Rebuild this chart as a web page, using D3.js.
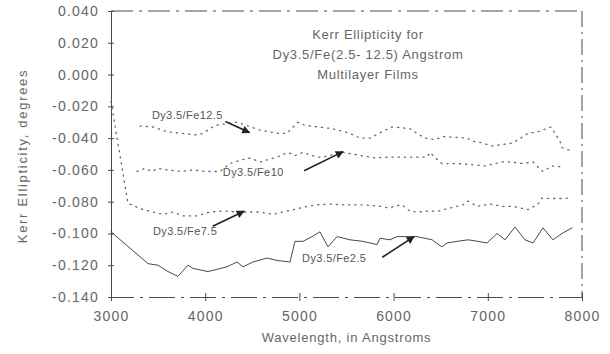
<!DOCTYPE html>
<html>
<head>
<meta charset="utf-8">
<script src="https://cdn.jsdelivr.net/npm/d3@7"></script>
<style>
  body { margin: 0; background: #fff; }
  svg { display: block; font-family: "Liberation Sans", Arial, sans-serif; }
</style>
</head>
<body>
<svg id="chart" width="610" height="354"></svg>
<script>
// wavelength (Angstrom), Kerr ellipticity (degrees)
let fe25 = [
    [3000, -0.099], [3393, -0.119], [3499, -0.120], [3605, -0.124], [3711, -0.127],
    [3817, -0.120], [3870, -0.122], [4030, -0.124], [4231, -0.121], [4338, -0.118],
    [4401, -0.121], [4507, -0.118], [4656, -0.1155], [4762, -0.117], [4900, -0.118],
    [4953, -0.105], [5038, -0.105], [5134, -0.102], [5219, -0.099], [5304, -0.1085],
    [5399, -0.102], [5537, -0.104], [5675, -0.105], [5824, -0.107], [5856, -0.103],
    [5962, -0.104], [6036, -0.102], [6248, -0.102], [6408, -0.104], [6514, -0.1085],
    [6567, -0.106], [6673, -0.105], [6790, -0.104], [6896, -0.105], [6992, -0.106],
    [7098, -0.100], [7183, -0.104], [7289, -0.096], [7395, -0.104], [7480, -0.106],
    [7586, -0.0965], [7692, -0.104], [7788, -0.100], [7894, -0.0965]
];
let fe75 = [
    [3000, -0.017], [3180, -0.081], [3340, -0.085], [3446, -0.0865], [3552, -0.088],
    [3658, -0.0865], [3764, -0.089], [3913, -0.089], [4019, -0.087], [4125, -0.086],
    [4232, -0.086], [4369, -0.0865], [4582, -0.0865], [4720, -0.088], [4826, -0.0865],
    [4975, -0.0845], [5081, -0.083], [5187, -0.082], [5325, -0.0815], [5463, -0.082],
    [5675, -0.082], [5877, -0.083], [5940, -0.084], [6036, -0.0825], [6089, -0.082],
    [6174, -0.086], [6248, -0.0865], [6355, -0.086], [6471, -0.086], [6599, -0.084],
    [6737, -0.082], [6790, -0.0796], [6885, -0.083], [7024, -0.0815], [7162, -0.083],
    [7268, -0.083], [7427, -0.085], [7533, -0.0815], [7576, -0.0777], [7660, -0.078],
    [7798, -0.078], [7873, -0.0777]
];
let fe10 = [
    [3276, -0.061], [3361, -0.059], [3435, -0.061], [3499, -0.059], [3594, -0.060],
    [3754, -0.061], [3870, -0.060], [3998, -0.061], [4157, -0.061], [4263, -0.056],
    [4369, -0.054], [4476, -0.0525], [4582, -0.055], [4762, -0.052], [4879, -0.049],
    [4953, -0.051], [5038, -0.049], [5187, -0.052], [5240, -0.052], [5463, -0.049],
    [5803, -0.0525], [5940, -0.052], [6142, -0.052], [6355, -0.052], [6386, -0.049],
    [6471, -0.054], [6514, -0.056], [6684, -0.056], [6885, -0.057], [6970, -0.0575],
    [7151, -0.055], [7236, -0.055], [7374, -0.056], [7480, -0.055], [7554, -0.0595],
    [7586, -0.061], [7682, -0.0575], [7767, -0.058]
];
let fe125 = [
    [3308, -0.0324], [3446, -0.033], [3594, -0.036], [3754, -0.037], [3892, -0.038],
    [3977, -0.037], [4104, -0.032], [4338, -0.030], [4582, -0.035], [4773, -0.037],
    [4868, -0.037], [4985, -0.030], [5060, -0.032], [5346, -0.034], [5537, -0.037],
    [5643, -0.040], [5750, -0.040], [5877, -0.036], [5983, -0.033], [6174, -0.034],
    [6248, -0.037], [6333, -0.040], [6440, -0.041], [6524, -0.039], [6779, -0.040],
    [6843, -0.042], [6939, -0.043], [7045, -0.045], [7268, -0.043], [7427, -0.037],
    [7533, -0.036], [7671, -0.033], [7724, -0.038], [7767, -0.042], [7788, -0.046],
    [7862, -0.0475]
];

let xTicks = [3000, 4000, 5000, 6000, 7000, 8000];
let yTicks = [0.040, 0.020, 0.000, -0.020, -0.040, -0.060, -0.080, -0.100, -0.120, -0.140];
let yTickLabels = ["0.040", "0.020", "0.000", "-0.020", "-0.040", "-0.060", "-0.080", "-0.100", "-0.120", "-0.140"];

let titleLines = ["Kerr Ellipticity for", "Dy3.5/Fe(2.5- 12.5) Angstrom", "Multilayer Films"];
let seriesLabels = ["Dy3.5/Fe12.5", "Dy3.5/Fe10", "Dy3.5/Fe7.5", "Dy3.5/Fe2.5"];

let width = 610, height = 354;
let margin = {top: 11, right: 28, bottom: 57, left: 111};
let ink = "#4a4a4a";
let textInk = "#666";

let graph = d3.select("#chart");

let x = d3.scaleLinear([3000, 8000], [margin.left, width - margin.right]);
let y = d3.scaleLinear([-0.140, 0.040], [height - margin.bottom, margin.top]);

graph.append("defs").append("marker")
    .attr("id", "arrow")
    .attr("viewBox", "0 0 10 10")
    .attr("refX", 9).attr("refY", 5)
    .attr("markerWidth", 7).attr("markerHeight", 5)
    .attr("orient", "auto")
  .append("path")
    .attr("d", "M0,0L10,5L0,10z")
    .attr("fill", "#222");

// frame: top/right/bottom look broken on the scan
let frame = graph.append("g")
    .attr("stroke", ink)
    .attr("stroke-width", 1)
    .attr("fill", "none");
frame.append("line")
    .attr("x1", x(3000)).attr("x2", x(8000))
    .attr("y1", y(0.040)).attr("y2", y(0.040))
    .attr("stroke-dasharray", "22,6,3,6");
frame.append("line")
    .attr("x1", x(8000)).attr("x2", x(8000))
    .attr("y1", y(0.040)).attr("y2", y(-0.140))
    .attr("stroke-dasharray", "16,5,2,5");

function xAxis(g) {
    g.attr("transform", `translate(0,${y(-0.140)})`)
     .call(d3.axisBottom(x).tickValues(xTicks).tickFormat(d3.format("d")).tickSize(4).tickPadding(10))
     .call(g => g.select(".domain").attr("stroke", ink).attr("stroke-dasharray", "26,6,3,6"))
     .call(g => g.selectAll(".tick line").attr("y1", -4).attr("y2", 4).attr("stroke", ink))
     .call(g => g.selectAll(".tick text")
         .attr("fill", textInk)
         .attr("font-size", 14)
         .attr("letter-spacing", 1.2));
}

function yAxis(g) {
    g.attr("transform", `translate(${margin.left},0)`)
     .call(d3.axisLeft(y).tickValues(yTicks).tickFormat((d, i) => yTickLabels[i]).tickSize(3).tickPadding(9))
     .call(g => g.select(".domain").attr("stroke", ink))
     .call(g => g.selectAll(".tick line").attr("x1", 3).attr("x2", -3).attr("stroke", ink))
     .call(g => g.selectAll(".tick text")
         .attr("fill", textInk)
         .attr("font-size", 14)
         .attr("letter-spacing", 1.2));
}

graph.append("g").call(xAxis);
graph.append("g").call(yAxis);

let line = d3.line()
    .x(d => x(d[0]))
    .y(d => y(d[1]));

let series = [
    {data: fe125, dash: "1.2,5", color: "#666", w: 1.3},
    {data: fe10, dash: "1.2,5", color: "#666", w: 1.3},
    {data: fe75, dash: "1.2,5", color: "#666", w: 1.3},
    {data: fe25, dash: null, color: "#333", w: 0.9}
];

graph.append("g")
    .attr("fill", "none")
  .selectAll("path")
  .data(series)
  .join("path")
    .attr("d", d => line(d.data))
    .attr("stroke", d => d.color)
    .attr("stroke-width", d => d.w)
    .attr("stroke-dasharray", d => d.dash)
    .attr("stroke-linecap", "round");

// callouts, anchored in data units: label start, arrow start, arrow tip
let callouts = [
    {text: seriesLabels[0], at: [3434, -0.028], from: [4215, -0.0295], to: [4470, -0.0365]},
    {text: seriesLabels[1], at: [4187, -0.0640], from: [5050, -0.0605], to: [5463, -0.0485]},
    {text: seriesLabels[2], at: [3445, -0.1010], from: [4080, -0.0955], to: [4412, -0.0860]},
    {text: seriesLabels[3], at: [5028, -0.1180], from: [5880, -0.1150], to: [6217, -0.1020]}
];

let notes = graph.append("g");
notes.selectAll("text")
    .data(callouts)
    .join("text")
      .attr("x", d => x(d.at[0]))
      .attr("y", d => y(d.at[1]))
      .attr("font-size", 11)
      .attr("letter-spacing", 0.4)
      .attr("fill", "#555")
      .text(d => d.text);
notes.selectAll("line")
    .data(callouts)
    .join("line")
      .attr("x1", d => x(d.from[0]))
      .attr("y1", d => y(d.from[1]))
      .attr("x2", d => x(d.to[0]))
      .attr("y2", d => y(d.to[1]))
      .attr("stroke", "#222")
      .attr("stroke-width", 1.6)
      .attr("marker-end", "url(#arrow)");

graph.append("g")
    .selectAll("text")
    .data(titleLines)
    .join("text")
      .attr("x", 368)
      .attr("y", (d, i) => 39 + i * 20)
      .attr("text-anchor", "middle")
      .attr("font-size", 13)
      .attr("letter-spacing", 0.7)
      .attr("fill", textInk)
      .text(d => d);

graph.append("text")
    .attr("x", (margin.left + width - margin.right) / 2)
    .attr("y", 342)
    .attr("text-anchor", "middle")
    .attr("font-size", 13)
    .attr("letter-spacing", 0.8)
    .attr("fill", textInk)
    .text("Wavelength, in Angstroms");

graph.append("text")
    .attr("transform", "translate(27,156) rotate(-90)")
    .attr("text-anchor", "middle")
    .attr("font-size", 13)
    .attr("letter-spacing", 1.7)
    .attr("fill", textInk)
    .text("Kerr Ellipticity, degrees");
</script>
</body>
</html>
